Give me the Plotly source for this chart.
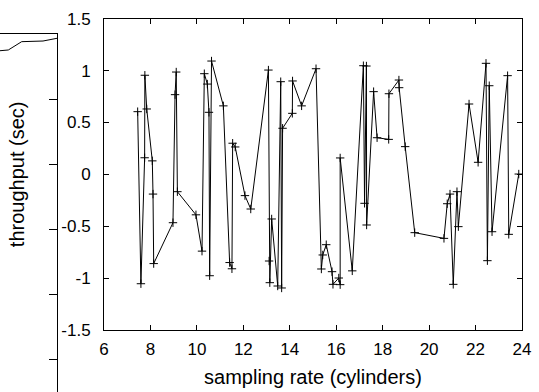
import plotly.graph_objects as go

# Main series: sampling rate (cylinders) vs throughput (sec)
sampling_rate = [7.45, 7.59, 7.75, 7.76, 7.84, 8.08, 8.11, 8.14, 8.97, 9.06, 9.11, 9.16,
                 9.96, 10.22, 10.32, 10.45, 10.52, 10.55, 10.63, 11.14, 11.41, 11.51, 11.54,
                 11.65, 12.07, 12.32, 13.08, 13.11, 13.14, 13.22, 13.48, 13.61, 13.65, 13.69,
                 14.11, 14.12, 14.51, 15.13, 15.36, 15.42, 15.57, 15.82, 15.86, 16.11, 16.17,
                 16.17, 16.69, 17.17, 17.22, 17.30, 17.31, 17.61, 17.76, 18.26, 18.27, 18.70,
                 18.71, 18.97, 19.38, 20.64, 20.78, 20.90, 21.04, 21.20, 21.26, 21.72, 22.11,
                 22.45, 22.51, 22.59, 22.71, 23.38, 23.43, 23.86]
throughput = [0.604, -1.054, 0.16, 0.955, 0.63, 0.13, -0.19, -0.86, -0.466, 0.768, 0.986, -0.167,
              -0.39, -0.74, 0.97, 0.87, 0.598, -0.977, 1.092, 0.66, -0.85, -0.91, 0.30,
              0.264, -0.205, -0.334, 1.005, -0.835, -1.044, -0.43, -1.076, 0.893, -1.095, 0.444,
              0.588, 0.90, 0.66, 1.018, -0.912, -0.777, -0.678, -0.938, -1.06, -0.999, -1.063,
              0.158, -0.93, 1.047, -0.279, 1.044, -0.488, 0.797, 0.353, 0.337, 0.777, 0.909,
              0.835, 0.267, -0.562, -0.617, -0.283, -0.19, -1.06, -0.167, -0.504, 0.678, 0.116,
              1.07, -0.832, 0.854, -0.553, 0.951, -0.578, 0.003]

# Partially visible neighbouring panel on the left
neighbor_x = [-2, 8.3, 21.7, 43, 55, 59]
neighbor_y = [9.74, 9.754, 9.882, 9.892, 9.928, 9.94]

x_ticks = [6, 8, 10, 12, 14, 16, 18, 20, 22, 24]
x_ticktext = ["6", "8", "10", "12", "14", "16", "18", "20", "22", "24"]
y_ticks = [-1.5, -1, -0.5, 0, 0.5, 1, 1.5]
y_ticktext = ["-1.5", "-1", "-0.5", "0", "0.5", "1", "1.5"]

W, H = 539, 392
FONT = "Liberation Sans, Arial, Helvetica, sans-serif"

fig = go.Figure()
fig.add_trace(go.Scatter(
    x=sampling_rate, y=throughput, mode="lines+markers",
    line=dict(color="black", width=1),
    marker=dict(symbol="cross-thin-open", size=6, line=dict(color="black", width=1)),
    xaxis="x", yaxis="y", showlegend=False, cliponaxis=False,
))
fig.add_trace(go.Scatter(
    x=neighbor_x, y=neighbor_y, mode="lines",
    line=dict(color="black", width=1),
    xaxis="x2", yaxis="y2", showlegend=False,
))

px_left, px_right, px_top, px_bottom = 104, 522, 18.7, 330
nb_right, nb_top = 57, 34

fig.update_layout(
    width=W, height=H,
    margin=dict(l=0, r=0, t=0, b=0),
    paper_bgcolor="white", plot_bgcolor="white",
    font=dict(family=FONT, size=17, color="black"),
    xaxis=dict(
        domain=[px_left / W, px_right / W], range=[6, 24],
        tickvals=x_ticks, ticktext=x_ticktext,
        ticks="inside", ticklen=5, tickcolor="black", tickwidth=1,
        showline=True, linecolor="black", linewidth=1, mirror="ticks",
        showgrid=False, zeroline=False, automargin=False,
        ticklabelstandoff=4,
        title=dict(text="sampling rate (cylinders)", standoff=11),
        anchor="y",
    ),
    yaxis=dict(
        domain=[(H - px_bottom) / H, (H - px_top) / H], range=[-1.5, 1.5],
        tickvals=y_ticks, ticktext=y_ticktext,
        ticks="inside", ticklen=5, tickcolor="black", tickwidth=1,
        showline=True, linecolor="black", linewidth=1, mirror="ticks",
        showgrid=False, zeroline=False, automargin=False,
        ticklabelstandoff=9,
        title=dict(text="throughput (sec)", standoff=31),
        anchor="x",
    ),
    xaxis2=dict(
        domain=[0, nb_right / W], range=[0, 57], side="top", anchor="y2",
        showline=True, linecolor="black", linewidth=1,
        ticks="", showticklabels=False, showgrid=False, zeroline=False,
        automargin=False,
    ),
    yaxis2=dict(
        domain=[0, (H - nb_top) / H], range=[10 - 358 / 65, 10], side="right", anchor="x2",
        showline=True, linecolor="black", linewidth=1,
        ticks="inside", ticklen=8, tickcolor="black", dtick=1, tick0=0,
        showticklabels=False, showgrid=False, zeroline=False, automargin=False,
    ),
)

fig.write_html("out.html", config={"displayModeBar": False},
               post_script="document.body.style.margin='0';")
